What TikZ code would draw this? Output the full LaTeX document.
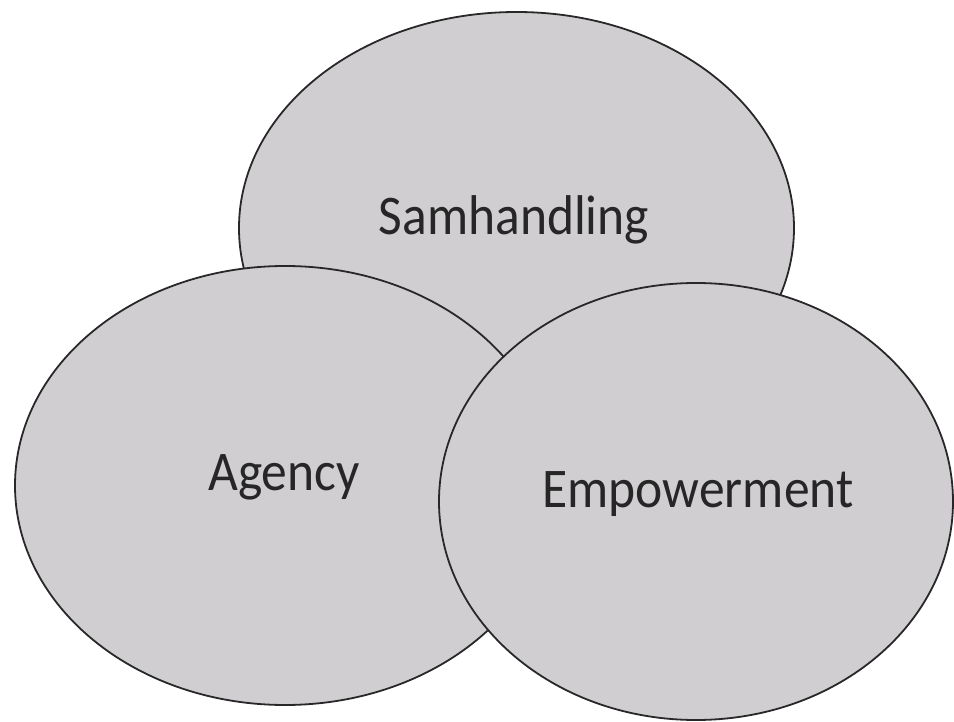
\documentclass[tikz,border=0pt]{standalone}
\usepackage{fontspec}
\setmainfont{Carlito}[FakeStretch=0.92]
\usetikzlibrary{shapes.geometric}
\definecolor{blobfill}{RGB}{208,206,209}
\definecolor{blobline}{RGB}{40,40,40}
\tikzset{
  blob/.style={ellipse, draw=blobline, fill=blobfill, line width=1.8pt, inner sep=0pt},
  lbl/.style={anchor=base, font=\fontsize{56}{60}\selectfont, text=black!85, inner sep=0pt}
}
\begin{document}
\begin{tikzpicture}[x=1pt,y=-1pt]
\useasboundingbox (0,0) rectangle (954,722);
\node[blob, minimum width=555pt, minimum height=432pt] (sam) at (516.5,228) {};
\node[blob, minimum width=540pt, minimum height=439pt] (age) at (285,485.5) {};
\node[blob, minimum width=514pt, minimum height=437pt] (emp) at (696,501.5) {};
\node[lbl] (samt) at (514,235) {Samhandling};
\node[lbl] (aget) at (284,490) {Agency};
\node[lbl] (empt) at (698,507) {Empowerment};
\end{tikzpicture}
\end{document}
